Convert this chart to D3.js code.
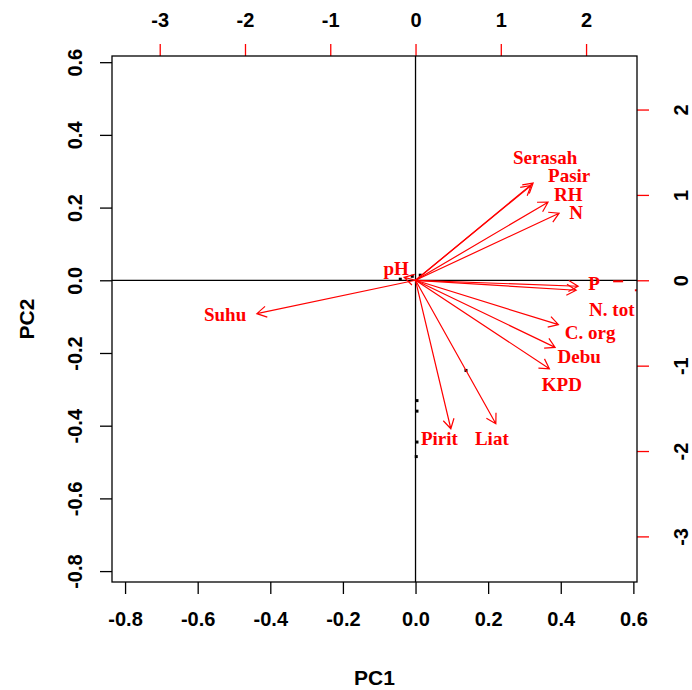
<!DOCTYPE html>
<html>
<head>
<meta charset="utf-8">
<script src="https://cdn.jsdelivr.net/npm/d3@7"></script>
<style>
  body { margin: 0; background: #fff; }
</style>
</head>
<body>
<div id="chart"></div>
<script>
// variable loadings (red scale, top/right axes)
const varNames = ["Serasah", "Pasir", "RH", "N", "P", "N. tot", "C. org", "Debu", "KPD", "Pirit", "Liat", "Suhu", "pH"];
const arrowX = [1.379, 1.355, 1.554, 1.684, 1.907, 1.884, 1.676, 1.637, 1.570, 0.414, 0.942, -1.861, -0.134];
const arrowY = [1.138, 1.110, 0.915, 0.786, -0.070, -0.117, -0.520, -0.786, -1.036, -1.739, -1.681, -0.391, 0.035];
const labelX = [1.520, 1.802, 1.790, 1.884, 2.095, 2.302, 2.048, 1.919, 1.716, 0.280, 0.895, -2.233, -0.228];
const labelY = [1.440, 1.232, 1.008, 0.790, -0.035, -0.344, -0.606, -0.888, -1.220, -1.857, -1.857, -0.399, 0.137];

// observation scores (black scale, bottom/left axes)
const obsX = [-0.042, -0.009, 0.013, 0.004, 0.004, 0.004, 0.002, 0.139];
const obsY = [0.003, 0.011, 0.014, -0.331, -0.360, -0.445, -0.485, -0.248];

// stray red marks at the right edge
const strayX = [2.376, 2.584];
const strayY = [-0.012, -0.117];
const strayW = [10, 2];

const pcTicks = [-0.8, -0.6, -0.4, -0.2, 0.0, 0.2, 0.4, 0.6];
const varTicks = [-3, -2, -1, 0, 1, 2];

const W = 692, H = 690;
const box = {left: 112, right: 637, top: 56, bottom: 582};
const ratio = 4.258;   // red units per black unit
const red = "#ff0000";

const svg = d3.select("#chart").append("svg")
    .attr("width", W)
    .attr("height", H)
    .style("font-family", "'Liberation Sans', Arial, sans-serif");

const x = d3.scaleLinear().domain([-0.836, 0.610]).range([box.left, box.right]);
const y = d3.scaleLinear().domain([-0.830, 0.617]).range([box.bottom, box.top]);
const xr = d3.scaleLinear().domain(x.domain().map(d => d * ratio)).range(x.range());
const yr = d3.scaleLinear().domain(y.domain().map(d => d * ratio)).range(y.range());

const styleTicks = function(g, colour) {
  g.select(".domain").remove();
  g.selectAll("line").attr("stroke", colour).attr("stroke-width", 1.3);
  g.selectAll("text")
    .style("font-size", "20px").style("font-weight", "bold").attr("fill", "#000");
};

// bottom axis
const gB = svg.append("g")
    .attr("transform", "translate(0," + box.bottom + ")")
    .call(d3.axisBottom(x).tickValues(pcTicks).tickSize(12).tickFormat(d => d.toFixed(1)));
styleTicks(gB, "#000");
gB.selectAll("text").attr("y", 37).attr("dy", "0.35em");

// left axis
const gL = svg.append("g")
    .attr("transform", "translate(" + box.left + ",0)")
    .call(d3.axisLeft(y).tickValues(pcTicks).tickSize(12).tickFormat(d => d.toFixed(1)));
styleTicks(gL, "#000");
gL.selectAll("text")
    .attr("x", 0).attr("y", 0).attr("dy", "0.35em")
    .attr("text-anchor", "middle")
    .attr("transform", "translate(-37,0) rotate(-90)");

// top axis (red ticks)
const gT = svg.append("g")
    .attr("transform", "translate(0," + box.top + ")")
    .call(d3.axisTop(xr).tickValues(varTicks).tickSize(12).tickFormat(d => String(d)));
styleTicks(gT, red);
gT.selectAll("text").attr("y", -36).attr("dy", "0.35em");

// right axis (red ticks)
const gR = svg.append("g")
    .attr("transform", "translate(" + box.right + ",0)")
    .call(d3.axisRight(yr).tickValues(varTicks).tickSize(12).tickFormat(d => String(d)));
styleTicks(gR, red);
gR.selectAll("text")
    .attr("x", 0).attr("y", 0).attr("dy", "0.35em")
    .attr("text-anchor", "middle")
    .attr("transform", "translate(44,0) rotate(-90)");

// axis titles
svg.append("text")
    .attr("x", (box.left + box.right) / 2).attr("y", 678)
    .attr("text-anchor", "middle").attr("dy", "0.35em")
    .style("font-size", "21px").style("font-weight", "bold")
    .text("PC1");
svg.append("text")
    .attr("transform", "translate(27," + (box.top + box.bottom) / 2 + ") rotate(-90)")
    .attr("text-anchor", "middle").attr("dy", "0.35em")
    .style("font-size", "21px").style("font-weight", "bold")
    .text("PC2");

// zero lines
svg.append("line")
    .attr("x1", box.left).attr("x2", box.right)
    .attr("y1", y(0)).attr("y2", y(0))
    .attr("stroke", "#000").attr("stroke-width", 1.3);
svg.append("line")
    .attr("x1", x(0)).attr("x2", x(0))
    .attr("y1", box.top).attr("y2", box.bottom)
    .attr("stroke", "#000").attr("stroke-width", 1.3);

// observations: tiny black marks
svg.append("g").selectAll("rect")
    .data(obsX)
    .enter().append("rect")
      .attr("x", (d, i) => x(d) - 1.5)
      .attr("y", (d, i) => y(obsY[i]) - 1.5)
      .attr("width", 3).attr("height", 3)
      .attr("fill", "#000");

// stray red marks
svg.append("g").selectAll("rect")
    .data(strayX)
    .enter().append("rect")
      .attr("x", (d, i) => xr(d) - strayW[i] / 2)
      .attr("y", (d, i) => yr(strayY[i]) - 1)
      .attr("width", (d, i) => strayW[i]).attr("height", 2)
      .attr("fill", red);

// arrows
const headLen = 11, headAng = Math.PI / 6;
const arrows = svg.append("g").attr("class", "arrows");
varNames.forEach(function(name, i) {
  const x0 = xr(0), y0 = yr(0);
  const x1 = xr(arrowX[i]), y1 = yr(arrowY[i]);
  const a = Math.atan2(y1 - y0, x1 - x0);
  const p = d3.path();
  p.moveTo(x0, y0);
  p.lineTo(x1, y1);
  p.moveTo(x1 - headLen * Math.cos(a - headAng), y1 - headLen * Math.sin(a - headAng));
  p.lineTo(x1, y1);
  p.lineTo(x1 - headLen * Math.cos(a + headAng), y1 - headLen * Math.sin(a + headAng));
  arrows.append("path")
    .attr("d", p.toString())
    .attr("fill", "none")
    .attr("stroke", red)
    .attr("stroke-width", 1.2);
});

// variable labels
svg.append("g").selectAll("text")
    .data(varNames)
    .enter().append("text")
      .attr("x", (d, i) => xr(labelX[i]))
      .attr("y", (d, i) => yr(labelY[i]))
      .attr("dy", "0.35em")
      .attr("text-anchor", "middle")
      .attr("fill", red)
      .style("font-family", "'Liberation Serif', 'Times New Roman', serif")
      .style("font-size", "19px")
      .style("font-weight", "bold")
      .text(d => d);

// box
svg.append("rect")
    .attr("x", box.left).attr("y", box.top)
    .attr("width", box.right - box.left).attr("height", box.bottom - box.top)
    .attr("fill", "none").attr("stroke", "#000").attr("stroke-width", 1.3);
</script>
</body>
</html>
